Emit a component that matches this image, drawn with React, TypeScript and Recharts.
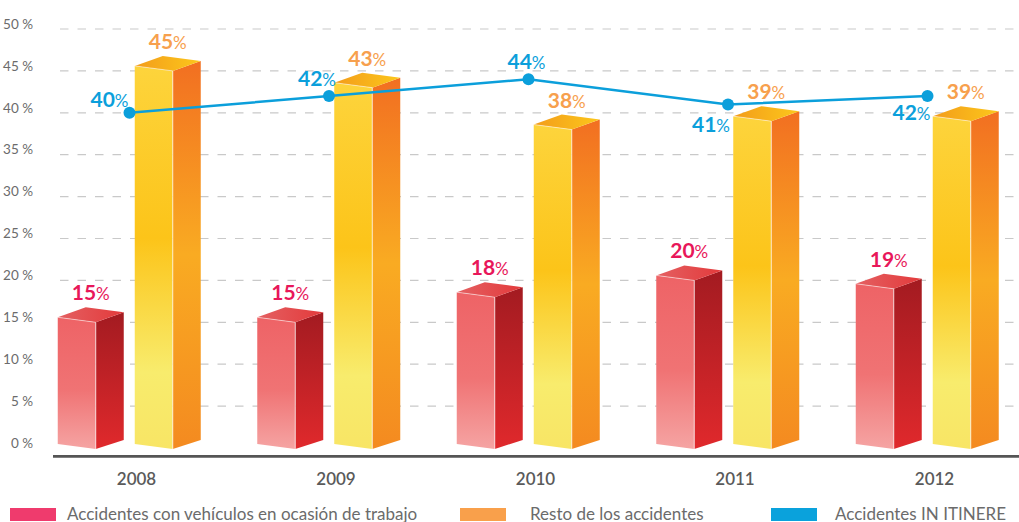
import React from 'react'
import { ComposedChart, Bar, Line, XAxis, YAxis, CartesianGrid, LabelList } from 'recharts'

const years = ['2008', '2009', '2010', '2011', '2012']
const vehiculos = [15, 15, 18, 20, 19]
const resto = [45, 43, 38, 39, 39]
const itinere = [40, 42, 44, 41, 42]
const yTicks = [0, 5, 10, 15, 20, 25, 30, 35, 40, 45, 50]
const seriesNames = ['Accidentes con vehículos en ocasión de trabajo', 'Resto de los accidentes', 'Accidentes IN ITINERE']

const data = years.map((year, i) => ({
  year,
  vehiculos: vehiculos[i],
  resto: resto[i],
  itinere: itinere[i],
}))

const FONT = 'Lato, "Open Sans", sans-serif'
const RED_TEXT = '#e8175a'
const ORANGE_TEXT = '#f7a04d'
const BLUE = '#0b9fdb'
const legendColors = ['#ef3b6d', '#f9a04b', '#0aa2dc']
const legendSwatchX = [10, 460, 771]
const legendTextX = [67, 530, 835]
// where the blue labels sit relative to their point (dx, dy of text centre)
const lineLabelOffsets = [[-20, -13], [-12, -17], [-2, -17], [-17, 21], [-16, 17]]

// 3d bar: front face + side + top
function Bar3D(kind: 'red' | 'yellow') {
  return (props: any) => {
    const { x, y, height } = props
    const fw = 38
    const d = 28
    const r = 10
    const x0 = x
    const x1 = x + fw
    const top = y
    const base = y + height
    const front = `${x0},${top - 5} ${x1},${top} ${x1},${base + 1} ${x0},${base - 4}`
    const side = `${x1},${top} ${x1 + d},${top - r} ${x1 + d},${base - 8} ${x1},${base + 1}`
    const cap = `${x0},${top - 5} ${x1},${top} ${x1 + d},${top - r} ${x0 + d},${top - 5 - r}`
    return (
      <g>
        <polygon points={front} fill={`url(#${kind}Front)`} />
        <polygon points={side} fill={`url(#${kind}Side)`} />
        <polygon points={cap} fill={`url(#${kind}Top)`} />
        <line x1={x1} y1={top} x2={x1} y2={base + 1} stroke="#fff" strokeOpacity={0.7} strokeWidth={1} />
        <line x1={x0} y1={top - 5} x2={x1} y2={top} stroke="#fff" strokeOpacity={0.5} strokeWidth={1} />
      </g>
    )
  }
}

function pctLabel(cx: number, baseline: number, value: number, color: string) {
  return (
    <text x={cx} y={baseline} textAnchor="middle" fill={color} fontFamily={FONT}>
      <tspan fontWeight={700} fontSize={21}>{value}</tspan>
      <tspan fontSize={17}>%</tspan>
    </text>
  )
}

const barLabel = (color: string) => (props: any) => {
  const { x, y, width, value } = props
  return pctLabel(x + width / 2, y - 22, value, color)
}

const lineLabel = (props: any) => {
  const { x, y, value, index } = props
  const [dx, dy] = lineLabelOffsets[index]
  return pctLabel(x + dx, y + dy + 7, value, BLUE)
}

const gridLine = (props: any) => {
  const { y1, x2, index } = props
  if (y1 > 440) return <g key={`g-${index}`} />
  return (
    <line
      key={`g-${index}`}
      x1={60}
      y1={y1}
      x2={x2 + 20}
      y2={y1}
      stroke="#c9c9c9"
      strokeWidth={1.2}
      strokeDasharray="8.5 9"
    />
  )
}

const YTick = (props: any) => {
  const { y, payload } = props
  return (
    <text x={33} y={y - 5} dy="0.35em" textAnchor="end" fill="#6b6b6b" fontSize={13.5} fontFamily={FONT}>
      {`${payload.value} %`}
    </text>
  )
}

const XTick = (props: any) => {
  const { x, y, payload } = props
  return (
    <text x={x + 7} y={y + 21} textAnchor="middle" fill="#5a5a5a" fontSize={17} fontWeight={600} fontFamily={FONT}>
      {payload.value}
    </text>
  )
}

export default function App() {
  return (
    <div style={{ position: 'absolute', left: 0, top: 0, width: 1019, height: 522, overflow: 'hidden', background: '#fff' }}>
      <svg width={0} height={0} style={{ position: 'absolute' }}>
        <defs>
          <linearGradient id="redFront" x1="0" y1="0" x2="0" y2="1">
            <stop offset="0" stopColor="#ee6366" />
            <stop offset="0.55" stopColor="#f07374" />
            <stop offset="1" stopColor="#f5a4a3" />
          </linearGradient>
          <linearGradient id="redSide" x1="0" y1="0" x2="0" y2="1">
            <stop offset="0" stopColor="#a31b21" />
            <stop offset="1" stopColor="#e0292c" />
          </linearGradient>
          <linearGradient id="redTop" x1="0" y1="0" x2="1" y2="0">
            <stop offset="0" stopColor="#e46062" />
            <stop offset="1" stopColor="#e33a3b" />
          </linearGradient>
          <linearGradient id="yellowFront" x1="0" y1="0" x2="0" y2="1">
            <stop offset="0" stopColor="#fdd43c" />
            <stop offset="0.45" stopColor="#fcc419" />
            <stop offset="0.8" stopColor="#f8ec6d" />
            <stop offset="1" stopColor="#f8e565" />
          </linearGradient>
          <linearGradient id="yellowSide" x1="0" y1="0" x2="0" y2="1">
            <stop offset="0" stopColor="#f26f21" />
            <stop offset="0.5" stopColor="#f9ab22" />
            <stop offset="1" stopColor="#f48a20" />
          </linearGradient>
          <linearGradient id="yellowTop" x1="0" y1="0" x2="1" y2="0">
            <stop offset="0" stopColor="#f39c1b" />
            <stop offset="1" stopColor="#fcc71b" />
          </linearGradient>
        </defs>
      </svg>
      <ComposedChart
        width={1019}
        height={522}
        data={data}
        margin={{ top: 29, right: 0, bottom: 35.6, left: 13 }}
        barSize={66}
        barGap={11}
      >
        <CartesianGrid vertical={false} horizontal={gridLine} />
        <XAxis
          dataKey="year"
          padding={{ left: -23.25, right: -8.25 }}
          axisLine={{ stroke: '#555', strokeWidth: 2.6 }}
          tickLine={false}
          height={30}
          tick={<XTick />}
        />
        <YAxis
          domain={[-1, 50]}
          ticks={yTicks}
          width={40}
          axisLine={false}
          tickLine={false}
          tick={<YTick />}
          interval={0}
        />
        <Bar dataKey="vehiculos" name={seriesNames[0]} fill={legendColors[0]} shape={Bar3D('red')} isAnimationActive={false}>
          <LabelList dataKey="vehiculos" content={barLabel(RED_TEXT)} />
        </Bar>
        <Bar dataKey="resto" name={seriesNames[1]} fill={legendColors[1]} shape={Bar3D('yellow')} isAnimationActive={false}>
          <LabelList dataKey="resto" content={barLabel(ORANGE_TEXT)} />
        </Bar>
        <Line
          dataKey="itinere"
          name={seriesNames[2]}
          stroke={BLUE}
          strokeWidth={2.5}
          dot={{ r: 6, fill: BLUE, stroke: 'none' }}
          activeDot={false}
          isAnimationActive={false}
        >
          <LabelList dataKey="itinere" content={lineLabel} />
        </Line>
      </ComposedChart>
      <svg width={1019} height={522} style={{ position: 'absolute', left: 0, top: 0, pointerEvents: 'none' }}>
        {seriesNames.map((name, i) => (
          <g key={name}>
            <rect x={legendSwatchX[i]} y={508} width={46} height={13} fill={legendColors[i]} />
            <text x={legendTextX[i]} y={520} fill="#6b6b6b" fontSize={17} fontFamily={FONT}>
              {name}
            </text>
          </g>
        ))}
      </svg>
    </div>
  )
}
